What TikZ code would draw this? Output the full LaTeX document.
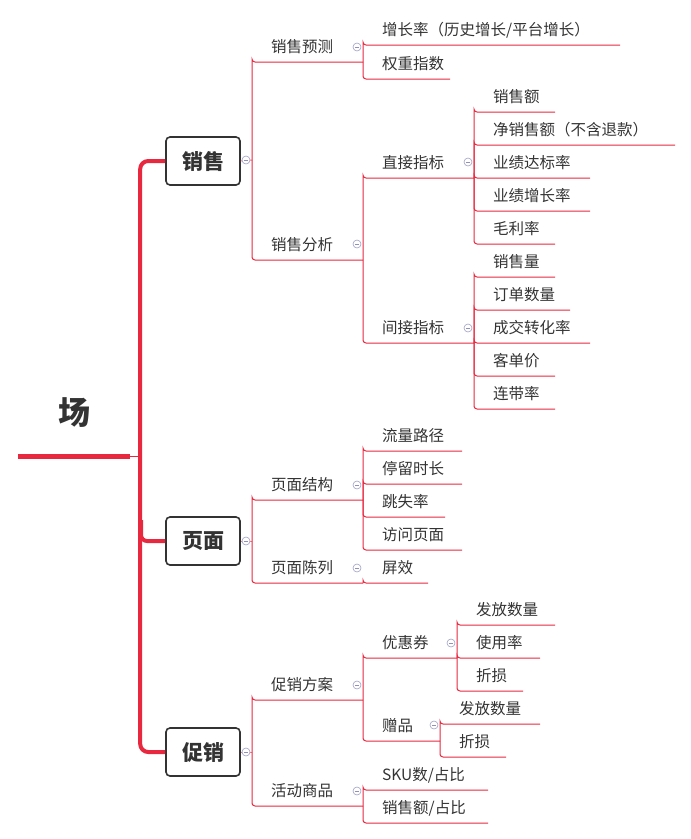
\documentclass[tikz,border=0pt]{standalone}
\usepackage{fontspec}
\setmainfont{Noto Sans CJK SC}
\begin{document}
\begin{tikzpicture}[x=1pt,y=-1pt,
  txt/.style={anchor=base west, inner sep=0pt, font=\fontsize{15.5}{17}\selectfont, text=black!80},
  box/.style={draw=black!80, line width=1.6pt, rounded corners=4pt, minimum width=74pt, minimum height=48pt, font=\fontsize{21}{23}\selectfont\bfseries, text=black!80},
  icon/.style={circle, draw=blue!25!gray!60, line width=0.6pt, minimum size=8pt, inner sep=0pt, fill=white,
    path picture={\draw[blue!25!gray!70, line width=0.6pt] ([xshift=-2pt]path picture bounding box.center) -- ([xshift=2pt]path picture bounding box.center);}}]
\definecolor{mr}{HTML}{E8283F}
\tikzset{ln/.style={draw=mr, line width=1pt, rounded corners=3pt}}
\useasboundingbox (0,0) rectangle (691,839);
\newcommand{\mn}[6]{\coordinate (#1-l) at (#2,#4); \coordinate (#1-r) at (#3,#4);
  \node[txt] (#1) at (#6,#4-10) {#5};}
\newcommand{\cn}[2]{\draw[ln] (#1-r) |- (#2-l) -- (#2-r);}
% root
\node[font=\fontsize{32}{34}\selectfont\bfseries, text=black!80] (root) at (74,413) {场};
\coordinate (ru-l) at (18,456); \coordinate (ru-r) at (130,456);
\draw[mr, line width=5pt] (ru-l) -- (ru-r);
\node[box] (b1) at (203,161) {销售};
\node[box] (b2) at (203,541) {页面};
\node[box] (b3) at (203,752) {促销};
\coordinate (tr) at (140,456);
\draw[mr, line width=1pt] (ru-r) -- (tr);
\draw[mr, line width=4pt, rounded corners=8pt] (b1.west) -- ++(-25,0) |- (b3.west);
\draw[mr, line width=4pt, rounded corners=6pt] (141,520) |- (b2.west);
\foreach \b/\y in {b1/160,b2/541,b3/752}{ \coordinate (\b-r) at (252,\y); \draw[mr!60, line width=1pt] (\b.east) -- (\b-r); }
% level 2
\mn{s1}{252}{363}{62}{销售预测}{271}
\mn{s2}{252}{363}{260}{销售分析}{271}
\mn{p1}{252}{363}{500}{页面结构}{271}
\mn{p2}{252}{363}{583}{页面陈列}{271}
\mn{c1}{252}{363}{700}{促销方案}{271}
\mn{c2}{252}{363}{806}{活动商品}{271}
\cn{b1}{s1}\cn{b1}{s2}\cn{b2}{p1}\cn{b2}{p2}\cn{b3}{c1}\cn{b3}{c2}
% level 3
\mn{s11}{363}{620}{45}{增长率（历史增长/平台增长）}{382}
\mn{s12}{363}{450}{79}{权重指数}{382}
\cn{s1}{s11}\cn{s1}{s12}
\mn{s21}{363}{474}{178}{直接指标}{382}
\mn{s22}{363}{474}{343}{间接指标}{382}
\cn{s2}{s21}\cn{s2}{s22}
\mn{d1}{474}{555}{112}{销售额}{493}
\mn{d2}{474}{675}{145}{净销售额（不含退款）}{493}
\mn{d3}{474}{590}{178}{业绩达标率}{493}
\mn{d4}{474}{590}{211}{业绩增长率}{493}
\mn{d5}{474}{555}{244}{毛利率}{493}
\foreach \n in {d1,d2,d3,d4,d5}{\cn{s21}{\n}}
\mn{e1}{474}{555}{277}{销售量}{493}
\mn{e2}{474}{570}{310}{订单数量}{493}
\mn{e3}{474}{590}{343}{成交转化率}{493}
\mn{e4}{474}{555}{376}{客单价}{493}
\mn{e5}{474}{555}{409}{连带率}{493}
\foreach \n in {e1,e2,e3,e4,e5}{\cn{s22}{\n}}
\mn{f1}{363}{462}{451}{流量路径}{382}
\mn{f2}{363}{462}{484}{停留时长}{382}
\mn{f3}{363}{445}{517}{跳失率}{382}
\mn{f4}{363}{462}{550}{访问页面}{382}
\foreach \n in {f1,f2,f3,f4}{\cn{p1}{\n}}
\mn{g1}{363}{428}{583}{屏效}{382}
\cn{p2}{g1}
\mn{h1}{363}{457}{658}{优惠券}{382}
\mn{h2}{363}{440}{741}{赠品}{382}
\cn{c1}{h1}\cn{c1}{h2}
\mn{i1}{457}{555}{625}{发放数量}{476}
\mn{i2}{457}{540}{658}{使用率}{476}
\mn{i3}{457}{523}{691}{折损}{476}
\foreach \n in {i1,i2,i3}{\cn{h1}{\n}}
\mn{j1}{440}{540}{724}{发放数量}{459}
\mn{j2}{440}{506}{757}{折损}{459}
\foreach \n in {j1,j2}{\cn{h2}{\n}}
\mn{k1}{363}{488}{790}{SKU数/占比}{382}
\mn{k2}{363}{488}{823}{销售额/占比}{382}
\foreach \n in {k1,k2}{\cn{c2}{\n}}
% icons
\foreach \x/\y in {246/160,246/541,246/752,357/47,357/244,357/485,357/568,357/685,357/791,468/162,468/328,451/643,434/725}{\node[icon] at (\x,\y) {};}
\end{tikzpicture}
\end{document}
